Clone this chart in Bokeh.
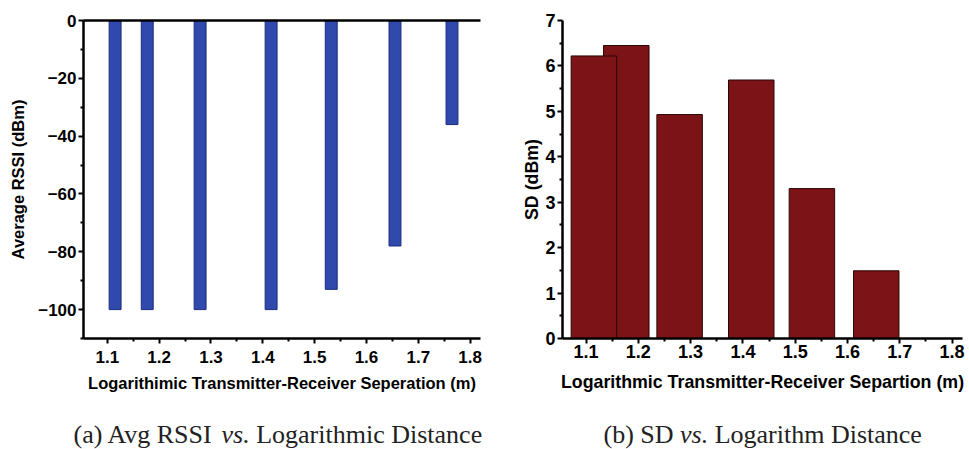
from bokeh.plotting import figure
from bokeh.models import (ColumnDataSource, FixedTicker, LinearAxis, Range1d, Label)
from bokeh.layouts import row, column
from bokeh.embed import file_html
from bokeh.resources import INLINE

# ---- data ----
log_dist = [1.115, 1.177, 1.279, 1.416, 1.532, 1.655, 1.765]
avg_rssi = [-100, -100, -100, -100, -93, -78, -36]
sd_dbm = [6.22, 6.45, 4.93, 5.69, 3.30, 1.49, 0.0]

x_ticks = [1.1, 1.2, 1.3, 1.4, 1.5, 1.6, 1.7, 1.8]
x_minor = [1.15, 1.25, 1.35, 1.45, 1.55, 1.65, 1.75]
rssi_ticks = [0, -20, -40, -60, -80, -100]
rssi_minor = [-10, -30, -50, -70, -90, -110]
sd_ticks = [0, 1, 2, 3, 4, 5, 6, 7]
sd_minor = [0.5, 1.5, 2.5, 3.5, 4.5, 5.5, 6.5]

caption_a = ["(a) Avg RSSI", "vs.", "Logarithmic Distance"]
caption_b = ["(b) SD", "vs.", "Logarithm Distance"]

FONT = "Liberation Sans"
SERIF = "Liberation Serif"
BLUE = "#3049ad"
BLUE_EDGE = "#1c2c80"
RED = "#7c1417"
RED_EDGE = "#2b0606"


def style_axes(p, tick_size, label_size, xstand, ystand, xlabstand, ylabstand):
    for ax in p.xaxis + p.yaxis:
        ax.axis_line_width = 2.5
        ax.axis_line_color = "black"
        ax.major_tick_line_width = 2
        ax.minor_tick_line_width = 2
        ax.major_tick_out = 5
        ax.major_tick_in = 0
        ax.minor_tick_out = 3
        ax.minor_tick_in = 0
        ax.major_label_text_font = FONT
        ax.major_label_text_font_style = "bold"
        ax.major_label_text_font_size = tick_size
        ax.major_label_text_color = "black"
        ax.axis_label_text_font = FONT
        ax.axis_label_text_font_style = "bold"
        ax.axis_label_text_font_size = label_size
        ax.axis_label_text_color = "black"
    p.xaxis.major_label_standoff = xstand
    p.yaxis.major_label_standoff = ystand
    p.xaxis.axis_label_standoff = xlabstand
    p.yaxis.axis_label_standoff = ylabstand
    p.xgrid.visible = False
    p.ygrid.visible = False
    p.outline_line_color = None


def add_caption(p, parts, x0, y0, size_px):
    # Times metrics (em) for spacing the three caption parts
    em = {"(a) Avg RSSI": 5.444, "(b) SD": 2.694, "vs.": 1.083}
    space = 0.25
    x1 = x0 + (em[parts[0]] + space) * size_px
    x2 = x1 + (em["vs."] + space) * size_px
    for txt, xx, style in [(parts[0], x0, "normal"), (parts[1], x1, "italic"), (parts[2], x2, "normal")]:
        p.add_layout(Label(x=xx, y=y0, x_units="screen", y_units="screen", text=txt,
                           text_font=SERIF, text_font_style=style,
                           text_font_size=f"{size_px}px", text_color="#222222",
                           text_baseline="alphabetic", text_align="left"))


H = 414

# ---- left chart ----
p1 = figure(width=488, height=H, output_backend="svg", toolbar_location=None,
            x_range=Range1d(1.054, 1.82), y_range=Range1d(-110, 0),
            min_border_left=83, min_border_right=8, min_border_top=20, min_border_bottom=76)
src1 = ColumnDataSource(dict(x=log_dist, y=avg_rssi))
p1.vbar(x="x", top=0, bottom="y", width=0.023, source=src1,
        fill_color=BLUE, line_color=BLUE_EDGE, line_width=1)
p1.xaxis.ticker = FixedTicker(ticks=x_ticks, minor_ticks=x_minor)
p1.yaxis.ticker = FixedTicker(ticks=rssi_ticks, minor_ticks=rssi_minor)
p1.yaxis.major_label_overrides = {t: (str(t).replace("-", "\u2212")) for t in rssi_ticks}
p1.xaxis.axis_label = "Logarithimic Transmitter-Receiver Seperation (m)"
p1.yaxis.axis_label = "Average RSSI (dBm)"
style_axes(p1, "17px", "16.5px", 7, 2, 8, 8)
top_axis = LinearAxis(axis_line_width=2.5, axis_line_color="black",
                      major_tick_line_color=None, minor_tick_line_color=None,
                      major_label_text_font_size="0px", major_label_text_color=None)
p1.add_layout(top_axis, "above")

# ---- right chart ----
p2 = figure(width=480, height=H, output_backend="svg", toolbar_location=None,
            x_range=Range1d(1.055, 1.82), y_range=Range1d(0, 7),
            min_border_left=74, min_border_right=6, min_border_top=20, min_border_bottom=74)
order = list(range(len(log_dist)))[::-1]
src2 = ColumnDataSource(dict(x=[log_dist[i] for i in order], y=[sd_dbm[i] for i in order]))
p2.vbar(x="x", top="y", bottom=0, width=0.087, source=src2,
        fill_color=RED, line_color=RED_EDGE, line_width=1)
p2.xaxis.ticker = FixedTicker(ticks=x_ticks, minor_ticks=x_minor)
p2.yaxis.ticker = FixedTicker(ticks=sd_ticks, minor_ticks=sd_minor)
p2.xaxis.axis_label = "Logarithmic Transmitter-Receiver Separtion (m)"
p2.yaxis.axis_label = "SD (dBm)"
style_axes(p2, "18px", "17.8px", 1, 2, 11, 0)

# ---- captions strip ----
pc = figure(width=968, height=35, output_backend="svg", toolbar_location=None,
            x_range=Range1d(0, 968), y_range=Range1d(0, 35),
            min_border=0, min_border_left=0, min_border_right=0,
            min_border_top=0, min_border_bottom=0)
pc.axis.visible = False
pc.grid.visible = False
pc.outline_line_color = None
add_caption(pc, caption_a, 73, 15, 26)
add_caption(pc, caption_b, 603, 15, 26)

layout = column(row(p1, p2), pc)
open("out.html", "w").write(file_html(layout, INLINE))
